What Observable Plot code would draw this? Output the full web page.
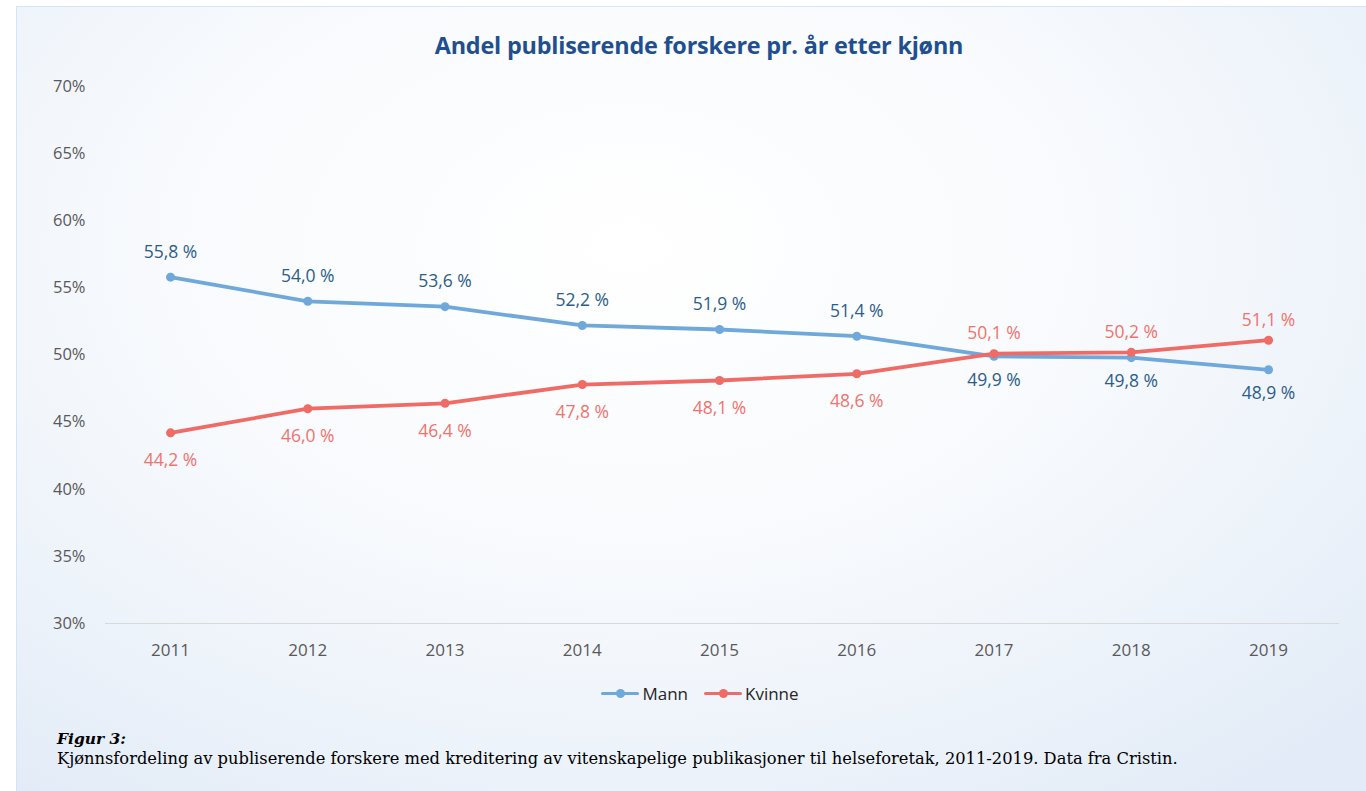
<!DOCTYPE html>
<html>
<head>
<meta charset="utf-8">
<script src="https://cdn.jsdelivr.net/npm/d3@7"></script>
<script src="https://cdn.jsdelivr.net/npm/@observablehq/plot@0.6"></script>
<style>
  html, body { margin: 0; padding: 0; width: 1366px; height: 791px; overflow: hidden; background: #ffffff; }
  #frame {
    position: absolute; left: 16px; top: 6px; width: 1360px; height: 800px;
    border: 1px solid #d6e5f6;
    background: radial-gradient(ellipse 75% 85% at 45% 30%, #ffffff 0%, #f8fafd 45%, #edf3fa 75%, #e2ebf7 100%);
  }
  #title {
    position: absolute; left: 0; width: 1398px; top: 29px; text-align: center;
    font-family: "Open Sans", sans-serif; font-weight: 700; font-size: 23.4px; color: #1f4f8f;
    letter-spacing: -0.2px;
  }
  #chart { position: absolute; left: 0; top: 0; }
  #legend {
    position: absolute; left: 0; width: 1400px; top: 677px; text-align: center;
    font-family: "Open Sans", sans-serif; font-size: 17px; color: #262626;
  }
  .item { display: inline-flex; align-items: center; margin: 0 8px; }
  .sw { position: relative; width: 38px; height: 3.5px; margin-right: 3px; border-radius: 2px; }
  .sw i { position: absolute; left: 14.5px; top: -3px; width: 9.5px; height: 9.5px; border-radius: 50%; }
  #cap1 { position: absolute; left: 57px; top: 729px; font-family: "DejaVu Serif", serif; font-weight: bold; font-style: italic; font-size: 15.5px; color: #000; }
  #cap2 { position: absolute; left: 57px; top: 749px; font-family: "DejaVu Serif", serif; font-size: 16.3px; color: #000; white-space: nowrap; }
</style>
</head>
<body>
<div id="frame"></div>
<div id="title">Andel publiserende forskere pr. år etter kjønn</div>
<div id="chart"></div>
<div id="legend"></div>
<div id="cap1">Figur 3:</div>
<div id="cap2">Kjønnsfordeling av publiserende forskere med kreditering av vitenskapelige publikasjoner til helseforetak, 2011-2019. Data fra Cristin.</div>
<script>
const years = [2011, 2012, 2013, 2014, 2015, 2016, 2017, 2018, 2019];
const mann = [55.8, 54.0, 53.6, 52.2, 51.9, 51.4, 49.9, 49.8, 48.9];
const kvinne = [44.2, 46.0, 46.4, 47.8, 48.1, 48.6, 50.1, 50.2, 51.1];
const seriesNames = ["Mann", "Kvinne"];
const yTicks = [30, 35, 40, 45, 50, 55, 60, 65, 70];

const lineColor = {Mann: "#6fa8da", Kvinne: "#ef6b65"};
const labelColor = {Mann: "#2c5d8a", Kvinne: "#f0736d"};

const rows = [];
years.forEach((yr, i) => {
  rows.push({year: yr, series: "Mann", value: mann[i], above: mann[i] > kvinne[i]});
  rows.push({year: yr, series: "Kvinne", value: kvinne[i], above: kvinne[i] > mann[i]});
});
const fmt = v => v.toFixed(1).replace(".", ",") + " %";
const font = "'Open Sans', sans-serif";

const plot = Plot.plot({
  width: 1366,
  height: 670,
  marginLeft: 105,
  marginRight: 27,
  marginTop: 86,
  marginBottom: 47,
  style: {background: "transparent", fontFamily: font, fontSize: "16px", color: "#595959", overflow: "visible"},
  x: {domain: [2010.526, 2019.517], label: null},
  y: {domain: [30, 70], label: null},
  marks: [
    Plot.axisY({ticks: yTicks, tickFormat: d => d + "%", tickSize: 0, tickPadding: 20, label: null, fill: "#595959", fontSize: 16.5, textAnchor: "end"}),
    Plot.axisX({ticks: years, tickFormat: d => String(d), tickSize: 0, tickPadding: 20, label: null, fill: "#595959", fontSize: 17}),
    Plot.ruleY([30], {stroke: "#d9d9d9", strokeWidth: 1.2}),
    ...seriesNames.map(s => Plot.line(rows.filter(d => d.series === s), {x: "year", y: "value", stroke: lineColor[s], strokeWidth: 3.8, strokeLinejoin: "round", strokeLinecap: "round"})),
    ...seriesNames.map(s => Plot.dot(rows.filter(d => d.series === s), {x: "year", y: "value", fill: lineColor[s], r: 4.5})),
    Plot.text(rows.filter(d => d.series === "Mann" && d.above), {x: "year", y: "value", text: d => fmt(d.value), dy: -25, fill: labelColor.Mann, fontSize: 17.5}),
    Plot.text(rows.filter(d => d.series === "Mann" && !d.above), {x: "year", y: "value", text: d => fmt(d.value), dy: 24, fill: labelColor.Mann, fontSize: 17.5}),
    Plot.text(rows.filter(d => d.series === "Kvinne" && d.above), {x: "year", y: "value", text: d => fmt(d.value), dy: -20, fill: labelColor.Kvinne, fontSize: 17.5}),
    Plot.text(rows.filter(d => d.series === "Kvinne" && !d.above), {x: "year", y: "value", text: d => fmt(d.value), dy: 28, fill: labelColor.Kvinne, fontSize: 17.5})
  ]
});
document.getElementById("chart").appendChild(plot);

const legend = document.getElementById("legend");
seriesNames.forEach(s => {
  const item = document.createElement("span");
  item.className = "item";
  item.innerHTML = `<span class="sw" style="background:${lineColor[s]}"><i style="background:${lineColor[s]}"></i></span>${s}`;
  legend.appendChild(item);
});
</script>
</body>
</html>
